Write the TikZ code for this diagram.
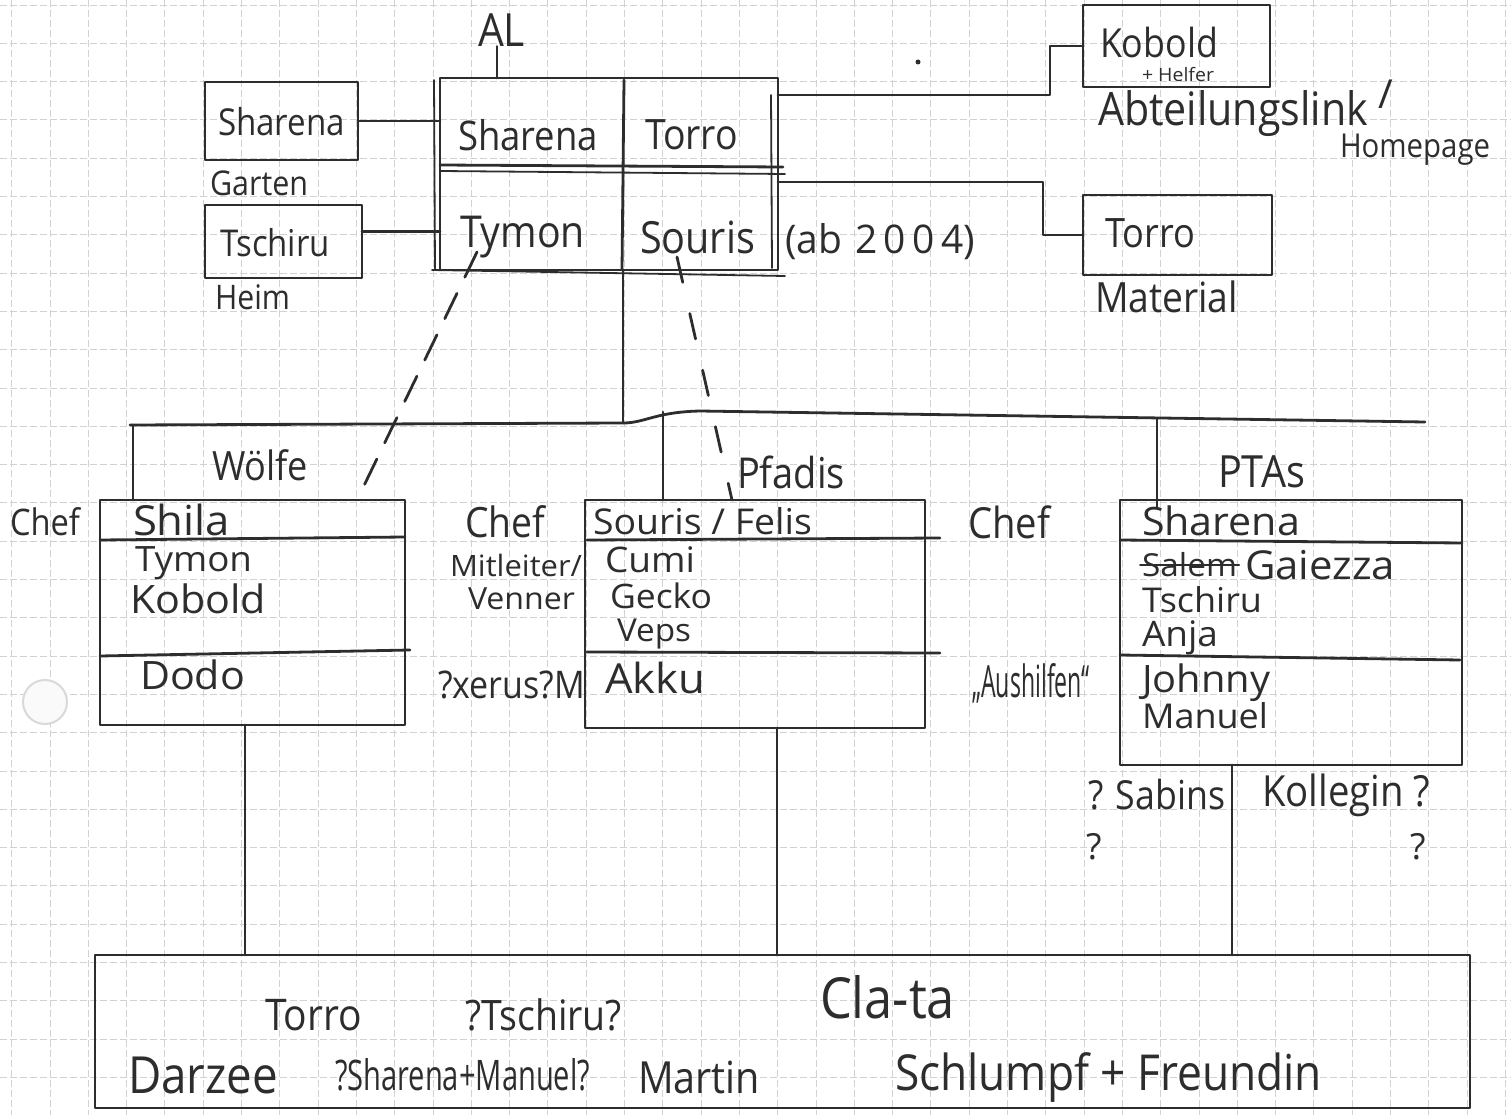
\documentclass[tikz,border=0pt]{standalone}
\usepackage{fontspec}
\setmainfont{Open Sans}
\usepackage{graphicx}
\usetikzlibrary{calc}
\definecolor{ink}{RGB}{45,45,45}
\definecolor{gridc}{RGB}{210,210,210}
\newcommand{\hwtext}[2]{\resizebox{#1pt}{!}{\scalebox{1}[1.12]{#2}}}
\newcommand{\hwflat}[2]{\resizebox{#1pt}{!}{\scalebox{1}[0.95]{#2}}}
\newcommand{\hwbox}[3]{\resizebox{#1pt}{#2pt}{#3}}
\begin{document}
\begin{tikzpicture}[x=1pt,y=-1pt,
  pen/.style={draw=ink,line width=2.8pt,line cap=round,line join=round},
  box/.style={pen,rectangle,inner sep=0pt,outer sep=0pt},
  txt/.style={inner sep=0pt,outer sep=0pt,text=ink,anchor=west},
  dashline/.style={draw=ink,line width=2.8pt,line cap=round,dash pattern=on 28pt off 18pt},
  gridline/.style={draw=gridc,line width=0.9pt,dash pattern=on 7pt off 3pt}]
\useasboundingbox[fill=white] (0,0) rectangle (1511,1115);
% graph paper
\foreach \i in {0,...,39} {\draw[gridline] (11.7+38.3*\i,0) -- (11.7+38.3*\i,1115);}
\foreach \j in {0,...,29} {\draw[gridline] (0,5+38.3*\j) -- (1511,5+38.3*\j);}
% hole punch
\draw[draw=gray!30,line width=2pt,fill=gray!4] (45,702) circle (22);
\fill[ink] (918,62) circle (2.5);

% ---------- boxes ----------
\node[box,minimum width=338pt,minimum height=192pt] (al) at (609,174) {};
\node[box,minimum width=153pt,minimum height=78pt] (shb) at (281.5,121) {};
\node[box,minimum width=157pt,minimum height=73pt] (tsb) at (283.5,241.5) {};
\node[box,minimum width=187pt,minimum height=82pt] (kob) at (1176.5,46) {};
\node[box,minimum width=189pt,minimum height=80pt] (tob) at (1177.5,235) {};
\node[box,minimum width=305pt,minimum height=225pt] (wol) at (252.5,612.5) {};
\node[box,minimum width=340pt,minimum height=228pt] (pfa) at (755,614) {};
\node[box,minimum width=342pt,minimum height=265pt] (pta) at (1291,632.5) {};
\node[box,minimum width=1375pt,minimum height=153pt] (clt) at (782.5,1031.5) {};

% AL box inner structure
\draw[pen] (440,165) -- (783,167);
\draw[pen,line width=1.8pt] (440,171) -- (785,174);
\draw[pen] (624,80) -- (622,270);
\draw[pen,line width=1.8pt] (434,80) -- (435,270);
\draw[pen,line width=1.8pt] (771,95) -- (772,268);
\draw[pen,line width=1.8pt] (432,270) -- (785,276);
% group box dividers
\draw[pen] (100,540) -- (405,537);
\draw[pen] (100,656) -- (410,650);
\draw[pen] (587,540) -- (940,538);
\draw[pen] (587,652) -- (940,653);
\draw[pen] (1120,540) -- (1462,543);
\draw[pen] (1120,655) -- (1460,660);

% ---------- texts ----------
\node[txt] (tAL) at (478,30) {\hwtext{47}{AL}};
\node[txt] (t1) at (458,135) {\hwtext{140}{Sharena}};
\node[txt] (t2) at (645,135) {\hwtext{93}{Torro}};
\node[txt] (t3) at (460,237) {\hwtext{125}{Tymon}};
\node[txt] (t4) at (640,237) {\hwtext{115}{Souris}};
\node[txt] (t5) at (785,242) {\hwbox{190}{30}{(ab\,\,2\,0\,0\,4)}};
\node[txt] (t6) at (218,122) {\hwtext{127}{Sharena}};
\node[txt] (t7) at (210,183) {\hwtext{98}{Garten}};
\node[txt] (t8) at (220,243) {\hwtext{110}{Tschiru}};
\node[txt] (t9) at (215,297) {\hwtext{75}{Heim}};
\node[txt] (t10) at (1100,42) {\hwtext{118}{Kobold}};
\node[txt] (t11) at (1142,75) {\hwflat{72}{+ Helfer}};
\node[txt] (t12) at (1098,114) {\hwtext{270}{Abteilungslink}};
\node[txt,font=\fontsize{40}{44}\selectfont] (t13) at (1378,94) {/};
\node[txt] (t14) at (1340,150) {\hwtext{150}{Homepage}};
\node[txt] (t15) at (1105,233) {\hwtext{90}{Torro}};
\node[txt] (t16) at (1095,297) {\hwtext{143}{Material}};
\node[txt] (t17) at (212,465) {\hwtext{96}{Wölfe}};
\node[txt] (t18) at (737,472) {\hwtext{108}{Pfadis}};
\node[txt] (t19) at (1218,472) {\hwtext{87}{PTAs}};
\node[txt] (t20) at (10,522) {\hwtext{70}{Chef}};
\node[txt] (t21) at (133,520) {\hwflat{97}{Shila}};
\node[txt] (t22) at (135,563) {\hwflat{117}{Tymon}};
\node[txt] (t23) at (130,599) {\hwflat{136}{Kobold}};
\node[txt] (t24) at (140,675) {\hwflat{105}{Dodo}};
\node[txt] (t25) at (465,522) {\hwtext{80}{Chef}};
\node[txt] (t26) at (450,565) {\hwflat{132}{Mitleiter/}};
\node[txt] (t27) at (468,599) {\hwflat{107}{Venner}};
\node[txt] (t28) at (438,685) {\hwtext{147}{?xerus?M}};
\node[txt] (t29) at (593,521) {\hwflat{219}{Souris / Felis}};
\node[txt] (t30) at (605,560) {\hwflat{90}{Cumi}};
\node[txt] (t31) at (610,596) {\hwflat{102}{Gecko}};
\node[txt] (t32) at (617,634) {\hwflat{74}{Veps}};
\node[txt] (t33) at (605,678) {\hwflat{100}{Akku}};
\node[txt] (t34) at (968,522) {\hwtext{82}{Chef}};
\node[txt] (t35) at (972,683) {\hwbox{118}{34}{„Aushilfen“}};
\node[txt] (t36) at (1142,521) {\hwflat{158}{Sharena}};
\node[txt] (t37) at (1142,565) {\hwflat{95}{Salem}};
\node[txt] (t38) at (1245,565) {\hwflat{150}{Gaiezza}};
\node[txt] (t39) at (1142,600) {\hwflat{120}{Tschiru}};
\node[txt] (t40) at (1142,638) {\hwflat{76}{Anja}};
\node[txt] (t41) at (1142,683) {\hwflat{128}{Johnny}};
\node[txt] (t42) at (1142,716) {\hwflat{126}{Manuel}};
\node[txt] (t43) at (1088,795) {\hwtext{137}{? Sabins}};
\node[txt] (t44) at (1262,795) {\hwtext{168}{Kollegin ?}};
\node[txt,font=\fontsize{36}{40}\selectfont] (t45) at (1086,847) {?};
\node[txt,font=\fontsize{36}{40}\selectfont] (t46) at (1410,847) {?};
\node[txt] (t47) at (265,1015) {\hwtext{97}{Torro}};
\node[txt] (t48) at (465,1015) {\hwtext{157}{?Tschiru?}};
\node[txt] (t49) at (820,997) {\hwtext{135}{Cla-ta}};
\node[txt] (t50) at (128,1075) {\hwtext{150}{Darzee}};
\node[txt] (t51) at (335,1075) {\hwbox{255}{32}{?Sharena+Manuel?}};
\node[txt] (t52) at (638,1077) {\hwtext{122}{Martin}};
\node[txt] (t53) at (895,1077) {\hwtext{427}{Schlumpf + Freundin}};
% strike-through of Salem
\draw[pen,line width=2pt] ([xshift=-2pt]t37.west) -- ([xshift=2pt]t37.east);

% ---------- connectors ----------
\draw[pen] (tAL.south -| 497,0) -- (al.north -| 497,0);
\draw[pen] (shb.east) -- (shb.east -| al.west);
\draw[pen] ([yshift=10pt]tsb.east) -- ([yshift=10pt]tsb.east -| al.west);
\coordinate (kbend) at (1050,46);
\draw[pen] ([yshift=-17pt]al.north east) -| (kbend) -- (kob.west);
\coordinate (tbend) at (1043,235);
\draw[pen] ([yshift=-104pt]al.north east) -| (tbend) -- (tob.west);
% trunk and bus
\coordinate (trunk) at (623,423);
\coordinate (busL) at (130,425);
\coordinate (busR) at (1425,422);
\draw[pen] (al.south -| trunk) -- (trunk);
\draw[pen] (busL) -- (trunk) .. controls (645,423) and (655,412) .. (700,411) -- (busR);
\coordinate (dW) at (133,425);
\coordinate (dP) at (663,412);
\coordinate (dT) at (1157,419);
\draw[pen] (dW) -- (dW |- wol.north);
\draw[pen] (dP) -- (dP |- pfa.north);
\draw[pen] (dT) -- ([yshift=-8pt]dT |- pta.north);
% links down to the bottom box
\coordinate (wd) at (245,725);
\coordinate (pd) at (777,728);
\coordinate (td) at (1232,765);
\draw[pen] (wd) -- (wd |- clt.north);
\draw[pen] (pd) -- (pd |- clt.north);
\draw[pen] (td) -- (td |- clt.north);
% dashed links
\coordinate (tyA) at (477,252);
\coordinate (tyB) at (358,498);
\coordinate (soA) at (677,257);
\coordinate (soB) at (732,500);
\draw[dashline] (tyA) -- (tyB);
\draw[dashline,dash pattern=on 26pt off 32pt] (soA) -- (soB);
\end{tikzpicture}
\end{document}
